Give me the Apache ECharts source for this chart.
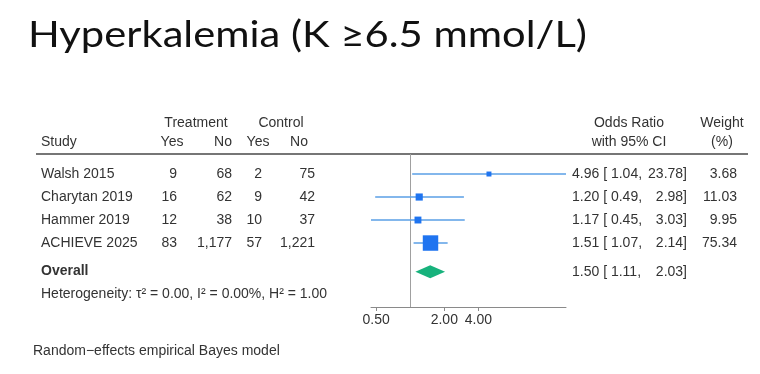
<!DOCTYPE html>
<html>
<head>
<meta charset="utf-8">
<script src="https://cdn.jsdelivr.net/npm/echarts@6/dist/echarts.min.js"></script>
<style>
html,body{margin:0;padding:0;background:#fff;}
#chart{width:760px;height:374px;}
</style>
</head>
<body>
<div id="chart"></div>
<script>
// ---- data ----
const titleText = 'Hyperkalemia (K \u22656.5 mmol/L)';
const studies = ['Walsh 2015', 'Charytan 2019', 'Hammer 2019', 'ACHIEVE 2025'];
const trtYes = [9, 16, 12, 83];
const trtNo = [68, 62, 38, 1177];
const ctlYes = [2, 9, 10, 57];
const ctlNo = [75, 42, 37, 1221];
const orEst = [4.96, 1.20, 1.17, 1.51];
const orLow = [1.04, 0.49, 0.45, 1.07];
const orHigh = [23.78, 2.98, 3.03, 2.14];
const weights = [3.68, 11.03, 9.95, 75.34];
const overallLabel = 'Overall';
const overallEst = 1.50;
const overallLow = 1.11;
const overallHigh = 2.03;
const heterogeneityText = 'Heterogeneity: \u03c4\u00b2 = 0.00, I\u00b2 = 0.00%, H\u00b2 = 1.00';
const footnoteText = 'Random\u2212effects empirical Bayes model';
const axisTickValues = [0.5, 2, 4];

// ---- layout helpers ----
const TXT = '#333333';
const FONT = '14px "Liberation Sans", Arial, sans-serif';
const rowY = i => 174 + 23 * i;
const overallRow = studies.length + 0.25;
const fmt2 = v => v.toFixed(2);
const fmtN = v => v.toLocaleString('en-US');

const graphics = [];
function txt(s, x, y, align, opts) {
  opts = opts || {};
  graphics.push({
    type: 'text', x: x, y: y, silent: true,
    style: Object.assign({text: s, font: FONT, fill: TXT, align: align || 'left', verticalAlign: 'middle'}, opts)
  });
}

// title (scaled to match reference width)
const titleFont = '37px Lato, "DejaVu Sans", sans-serif';
const ctx = document.createElement('canvas').getContext('2d');
ctx.font = titleFont;
const tw = ctx.measureText(titleText).width;
graphics.push({
  type: 'text', x: 28, y: 35, scaleX: 559 / tw, silent: true,
  style: {text: titleText, font: titleFont, fill: '#111', align: 'left', verticalAlign: 'middle'}
});

// headers
txt('Treatment', 196, 123, 'center');
txt('Control', 281, 123, 'center');
txt('Study', 41, 142, 'left');
txt('Yes', 172, 142, 'center');
txt('No', 232, 142, 'right');
txt('Yes', 258, 142, 'center');
txt('No', 299, 142, 'center');
txt('Odds Ratio', 629, 123, 'center');
txt('with 95% CI', 629, 142, 'center');
txt('Weight', 722, 123, 'center');
txt('(%)', 722, 142, 'center');

// rule
graphics.push({type: 'line', silent: true, shape: {x1: 36, y1: 154, x2: 748, y2: 154},
  style: {stroke: '#767676', lineWidth: 2}});

// rows
function ciText(est, lo, hi, y) {
  txt(fmt2(est) + ' [ ' + fmt2(lo) + ',', 572, y, 'left');
  txt(fmt2(hi) + ']', 687, y, 'right');
}
studies.forEach((s, i) => {
  const y = rowY(i);
  txt(s, 41, y, 'left');
  txt(fmtN(trtYes[i]), 177, y, 'right');
  txt(fmtN(trtNo[i]), 232, y, 'right');
  txt(fmtN(ctlYes[i]), 262, y, 'right');
  txt(fmtN(ctlNo[i]), 315, y, 'right');
  ciText(orEst[i], orLow[i], orHigh[i], y);
  txt(fmt2(weights[i]), 737, y, 'right');
});
const oy = rowY(overallRow);
txt(overallLabel, 41, oy - 1, 'left', {font: 'bold 14px "Liberation Sans", Arial, sans-serif'});
ciText(overallEst, overallLow, overallHigh, oy);
txt(heterogeneityText, 41, 294, 'left');
txt(footnoteText, 33, 351, 'left');

// ---- chart ----
const L2 = Math.log2;
const xMin = L2(Math.min(...orLow));
const xMax = L2(Math.max(...orHigh));

const studyData = studies.map((s, i) => [L2(orEst[i]), i, L2(orLow[i]), L2(orHigh[i]), weights[i]]);

const chart = echarts.init(document.getElementById('chart'), null, {renderer: 'canvas'});
chart.setOption({
  animation: false,
  backgroundColor: '#fff',
  grid: {left: 371, right: 194, top: 154, bottom: 67},
  xAxis: {
    type: 'value', min: xMin, max: xMax,
    axisLine: {show: true, onZero: false, lineStyle: {color: '#8a8a8a', width: 1}},
    axisTick: {show: true, length: 4, customValues: axisTickValues.map(L2), lineStyle: {color: '#8a8a8a'}},
    axisLabel: {show: true, customValues: axisTickValues.map(L2), formatter: v => fmt2(Math.pow(2, v)),
      color: TXT, fontSize: 14, fontFamily: '"Liberation Sans", Arial, sans-serif', margin: 6},
    splitLine: {show: false}
  },
  yAxis: {
    type: 'value', inverse: true, min: -0.87, max: 5.78, show: false,
    splitLine: {show: false}
  },
  series: [
    {
      type: 'custom',
      data: [[0, -0.87], [0, 5.78]],
      renderItem: (params, api) => {
        if (params.dataIndex !== 0) return null;
        const a = api.coord([0, -0.87]);
        const b = api.coord([0, 5.78]);
        return {type: 'line', shape: {x1: Math.round(a[0]) + 0.5, y1: a[1], x2: Math.round(a[0]) + 0.5, y2: b[1]},
          style: {stroke: '#a0a0a0', lineWidth: 1}};
      },
      silent: true, z: 1
    },
    {
      type: 'custom',
      data: studyData,
      encode: {x: [0, 2, 3], y: 1},
      renderItem: (params, api) => {
        const yv = api.value(1);
        const c = api.coord([api.value(0), yv]);
        const lo = api.coord([api.value(2), yv]);
        const hi = api.coord([api.value(3), yv]);
        const sz = 1.55 * Math.sqrt(api.value(4)) + 2;
        return {
          type: 'group',
          children: [
            {type: 'line', shape: {x1: lo[0], y1: c[1], x2: hi[0], y2: c[1]},
              style: {stroke: '#5a9fe6', lineWidth: 1.5}},
            {type: 'rect', shape: {x: c[0] - sz / 2, y: c[1] - sz / 2, width: sz, height: sz},
              style: {fill: '#1f74f0'}}
          ]
        };
      },
      silent: true, z: 2
    },
    {
      type: 'custom',
      data: [[L2(overallEst), overallRow, L2(overallLow), L2(overallHigh)]],
      encode: {x: [0, 2, 3], y: 1},
      renderItem: (params, api) => {
        const yv = api.value(1);
        const c = api.coord([api.value(0), yv]);
        const lo = api.coord([api.value(2), yv]);
        const hi = api.coord([api.value(3), yv]);
        return {type: 'polygon', shape: {points: [[lo[0], c[1]], [c[0], c[1] - 6.5], [hi[0], c[1]], [c[0], c[1] + 6.5]]},
          style: {fill: '#17b27c'}};
      },
      silent: true, z: 2
    }
  ],
  graphic: graphics
});
</script>
</body>
</html>
